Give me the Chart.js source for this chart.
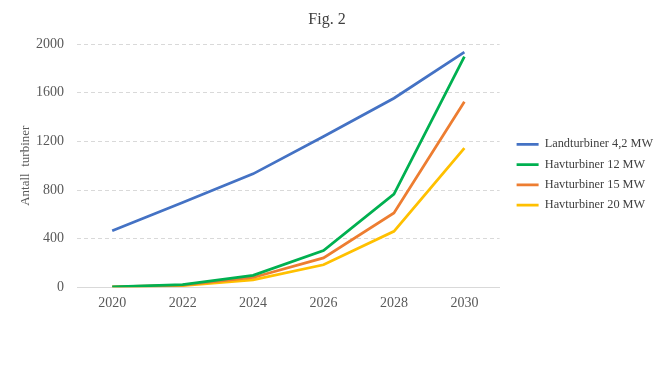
<!DOCTYPE html>
<html><head><meta charset="utf-8">
<script src="https://cdn.jsdelivr.net/npm/chart.js@4/dist/chart.umd.min.js"></script>
<style>html,body{margin:0;padding:0;background:#fff;}#wrap{width:664px;height:366px;}</style>
</head><body><div id="wrap"><canvas id="c" width="664" height="366"></canvas></div>
<script>
const years = ['2020', '2022', '2024', '2026', '2028', '2030'];
const landturbiner42 = [465, 697, 933, 1240, 1555, 1935];
const havturbiner12 = [3, 22, 98, 301, 767, 1897];
const havturbiner15 = [2, 18, 80, 241, 611, 1527];
const havturbiner20 = [1, 12, 60, 185, 460, 1144];
const seriesLabels = ['Landturbiner 4,2 MW', 'Havturbiner 12 MW', 'Havturbiner 15 MW', 'Havturbiner 20 MW'];
const seriesColors = ['#4472C4', '#00B050', '#ED7D31', '#FFC000'];
const yTicks = [0, 400, 800, 1200, 1600, 2000];

const serif = 'Liberation Serif';
const allSeries = [landturbiner42, havturbiner12, havturbiner15, havturbiner20];

const legendShift = {
  id: 'legendShift',
  afterLayout(chart) {
    const lg = chart.legend;
    if (lg) { lg.left += 9; lg.right += 9; }
  }
};

new Chart(document.getElementById('c'), {
  type: 'line',
  data: {
    labels: years,
    datasets: allSeries.map((d, i) => ({
      label: seriesLabels[i],
      data: d,
      borderColor: seriesColors[i],
      backgroundColor: seriesColors[i],
      borderWidth: 2.75,
      pointRadius: 0,
      tension: 0,
      fill: false
    }))
  },
  plugins: [legendShift],
  options: {
    responsive: false,
    animation: false,
    layout: { padding: { left: 0, right: 10, top: 0, bottom: 46 } },
    plugins: {
      title: {
        display: true, text: 'Fig. 2',
        font: { family: serif, size: 16, weight: 'normal' },
        color: '#404040',
        padding: { top: 10, bottom: 15 }
      },
      legend: {
        position: 'right', fullSize: false, align: 'center',
        title: { display: true, text: ' ', font: { size: 10 }, padding: { top: 3, bottom: 3 } },
        labels: {
          usePointStyle: true, pointStyle: 'line', pointStyleWidth: 22, boxHeight: 12,
          font: { family: serif, size: 12.3 }, color: '#404040', padding: 8
        }
      },
      tooltip: { enabled: false }
    },
    scales: {
      x: {
        offset: true,
        grid: { display: false, drawTicks: false },
        border: { display: true, color: '#d9d9d9', width: 1 },
        ticks: { font: { family: serif, size: 14 }, color: '#595959', padding: 8 }
      },
      y: {
        min: 0, max: 2000,
        afterBuildTicks: s => { s.ticks = yTicks.map(v => ({ value: v })); },
        grid: {
          color: c => (c.tick && c.tick.value === 0) ? 'rgba(0,0,0,0)' : '#d9d9d9',
          drawTicks: false, lineWidth: 1
        },
        border: { display: false, dash: [4, 3] },
        ticks: { font: { family: serif, size: 14 }, color: '#595959', padding: 13, callback: v => String(v) },
        title: {
          display: true, text: 'Antall  turbiner',
          font: { family: serif, size: 13 }, color: '#595959',
          padding: { top: 18, bottom: 0 }
        },
        afterFit: s => { s.width = 77; }
      }
    }
  }
});
</script></body></html>
